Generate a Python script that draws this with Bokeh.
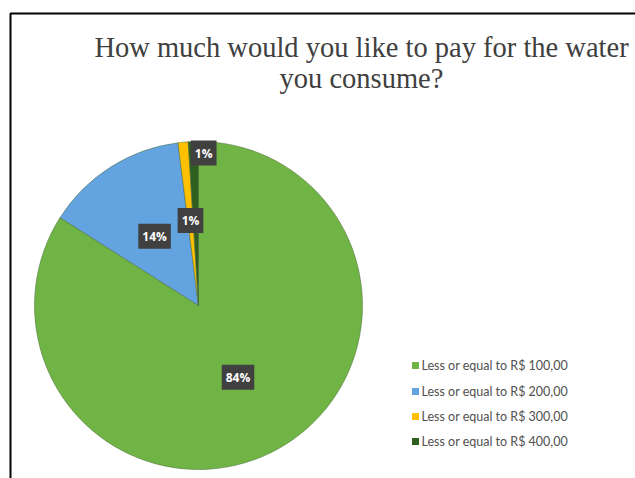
import math
from bokeh.plotting import figure
from bokeh.models import ColumnDataSource, Range1d
from bokeh.core.properties import value
from bokeh.embed import file_html
from bokeh.resources import INLINE

# ---- data ----
categories = ["Less or equal to R$ 100,00", "Less or equal to R$ 200,00",
              "Less or equal to R$ 300,00", "Less or equal to R$ 400,00"]
percents = [84, 14, 1, 1]
title_lines = ["How much would you like to pay for the water", "you consume?"]

# ---- style ----
colors = ["#70B445", "#62A3E0", "#FFC000", "#2F5E1F"]
W, H = 635, 478
cx, cy, R = 198, H - 305, 164
label_rf = [0.5, 0.5, 0.52, 0.93]
label_dx = [0, 0, 0, 10]

total = float(sum(percents))
starts, ends, lx, ly = [], [], [], []
cum = 0.0
for i, v in enumerate(percents):
    a0 = math.pi / 2 - (cum / total) * 2 * math.pi
    cum += v
    a1 = math.pi / 2 - (cum / total) * 2 * math.pi
    starts.append(a1)
    ends.append(a0)
    mid = (a0 + a1) / 2
    lx.append(cx + R * label_rf[i] * math.cos(mid) + label_dx[i])
    ly.append(cy + R * label_rf[i] * math.sin(mid))

src = ColumnDataSource(dict(start=starts, end=ends, color=colors,
                            label=[f"{v}%" for v in percents], lx=lx, ly=ly))

p = figure(width=W, height=H, output_backend="svg", toolbar_location=None,
           x_axis_location=None, y_axis_location=None, min_border=0,
           x_range=Range1d(0, W), y_range=Range1d(0, H))
p.grid.visible = False
p.outline_line_color = None
p.background_fill_color = "white"

# frame border
p.quad(left=[10], right=[W + 20], top=[H - 13], bottom=[-20],
       fill_color=None, line_color="black", line_width=2)

p.wedge(x=cx, y=cy, radius=R, start_angle="start", end_angle="end",
        fill_color="color", line_color="#4a6a3a", line_width=0.5, source=src)

p.text(x="lx", y="ly", text="label", source=src, text_color="white",
       text_font=value("Open Sans"), text_font_style="bold", text_font_size="12px",
       text_align="center", text_baseline="middle",
       background_fill_color="#404040", padding=4)

# title
tx = [361, 361]
ty = [H - 47, H - 78]
p.text(x=tx, y=ty, text=title_lines, text_font=value("Liberation Serif"),
       text_font_size="28.5px", text_color="#404040",
       text_align="center", text_baseline="alphabetic")

# legend
leg_y = [H - 365, H - 391, H - 416, H - 441]
p.scatter(x=[415] * 4, y=leg_y, marker="square", size=7, fill_color=colors,
          line_color=None)
p.text(x=[421] * 4, y=leg_y, text=categories, text_font=value("Lato"),
       text_font_size="12.5px", text_color="#505050",
       text_align="left", text_baseline="middle")

open("out.html", "w").write(file_html(p, INLINE))
